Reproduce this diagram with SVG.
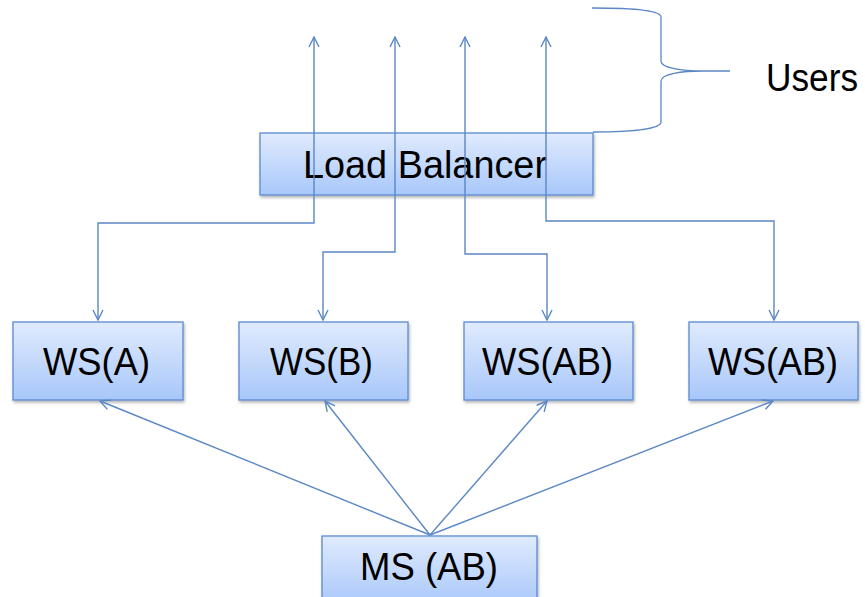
<svg xmlns="http://www.w3.org/2000/svg" width="865" height="597" viewBox="0 0 865 597">
  <defs>
    <linearGradient id="boxFill" x1="0" y1="0" x2="0" y2="1">
      <stop offset="0" stop-color="#e0ebfd"/>
      <stop offset="1" stop-color="#a8c7fa"/>
    </linearGradient>
    <filter id="shadow" x="-10%" y="-10%" width="120%" height="130%">
      <feDropShadow dx="1" dy="2" stdDeviation="1.5" flood-color="#000" flood-opacity="0.3"/>
    </filter>
    <marker id="arrow" viewBox="0 0 12 12" refX="11" refY="6" markerWidth="12" markerHeight="12" markerUnits="userSpaceOnUse" orient="auto-start-reverse">
      <path d="M1,1 L11,6 L1,11" fill="none" stroke="#5b87c5" stroke-width="1.4"/>
    </marker>
  </defs>
  <style>
    .box { fill: url(#boxFill); stroke: #5b8ad0; stroke-width: 1.3; filter: url(#shadow); }
    .label { font-family: "Liberation Sans", Arial, sans-serif; font-size: 38px; fill: #000; }
    .wire { fill: none; stroke: #5b87c5; stroke-width: 1.4; }
    .both { marker-start: url(#arrow); marker-end: url(#arrow); }
    .one { marker-end: url(#arrow); }
    .brace { fill: none; stroke: #5b87c5; stroke-width: 1.3; }
  </style>
  <rect width="865" height="597" fill="#fff"/>

  <g id="load-balancer">
    <rect class="box" x="260" y="133" width="333" height="62"/>
    <text class="label" x="303" y="178" textLength="244" lengthAdjust="spacingAndGlyphs">Load Balancer</text>
  </g>

  <g id="ws-a">
    <rect class="box" x="13" y="322" width="170" height="78"/>
    <text class="label" x="43" y="375" textLength="107" lengthAdjust="spacingAndGlyphs">WS(A)</text>
  </g>
  <g id="ws-b">
    <rect class="box" x="239" y="322" width="169" height="78"/>
    <text class="label" x="270" y="375" textLength="103" lengthAdjust="spacingAndGlyphs">WS(B)</text>
  </g>
  <g id="ws-ab-1">
    <rect class="box" x="464" y="322" width="169" height="78"/>
    <text class="label" x="482" y="375" textLength="131" lengthAdjust="spacingAndGlyphs">WS(AB)</text>
  </g>
  <g id="ws-ab-2">
    <rect class="box" x="689" y="322" width="169" height="78"/>
    <text class="label" x="708" y="375" textLength="130" lengthAdjust="spacingAndGlyphs">WS(AB)</text>
  </g>
  <g id="ms-ab">
    <rect class="box" x="322" y="536" width="215" height="70"/>
    <text class="label" x="360" y="580" textLength="138" lengthAdjust="spacingAndGlyphs">MS (AB)</text>
  </g>

  <g id="users">
    <path class="brace" d="M592,8 C632,8 661,10 661,17 L661,61 C661,68 682,71 703,71 C682,71 661,74 661,81 L661,122 C661,129 632,132 593,132 M703,71 L730,71"/>
    <text class="label" x="766" y="91" textLength="92" lengthAdjust="spacingAndGlyphs">Users</text>
  </g>

  <g id="connectors">
    <!-- elbow routes: users side above, web servers below -->
    <path class="wire both" d="M314,37 L314,223 L98,223 L98,320"/>
    <path class="wire both" d="M395,37 L395,252 L323,252 L323,320"/>
    <path class="wire both" d="M465,37 L465,254 L547,254 L547,320"/>
    <path class="wire both" d="M546,37 L546,221 L774,221 L774,320"/>
    <!-- fan-out from the master server -->
    <path class="wire one" d="M430,535 L100,401"/>
    <path class="wire one" d="M430,535 L325,401"/>
    <path class="wire one" d="M430,535 L547,401"/>
    <path class="wire one" d="M430,535 L773,401"/>
  </g>
</svg>
